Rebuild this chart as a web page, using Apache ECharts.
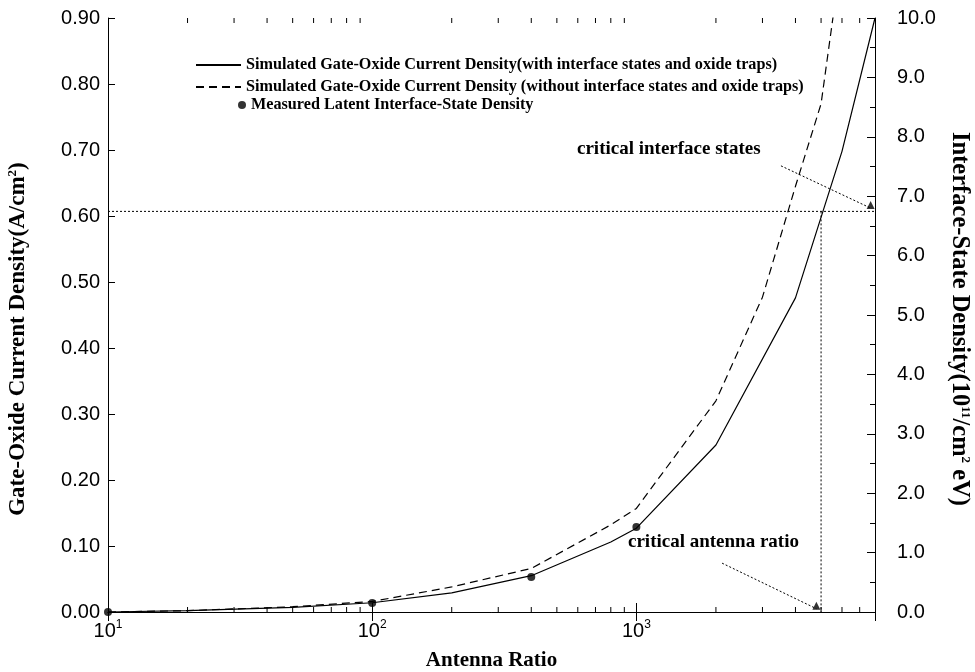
<!DOCTYPE html>
<html><head><meta charset="utf-8">
<script src="https://cdn.jsdelivr.net/npm/echarts@6/dist/echarts.min.js"></script>
<style>html,body{margin:0;padding:0;background:#fff}#c{width:975px;height:672px}</style>
</head><body><div id="c"></div>
<script>
// ---- data ----
const solidRatio   = [10, 20, 50, 100, 200, 400, 800, 1000, 2000, 4000, 6000, 8000];
const jWithTraps   = [0, 0.002, 0.007, 0.014, 0.029, 0.055, 0.106, 0.127, 0.253, 0.476, 0.698, 0.9];
const dashedRatio  = [10, 20, 50, 100, 200, 400, 800, 1000, 2000, 3000, 4000, 5000, 6000];
const jNoTraps     = [0, 0.002, 0.008, 0.016, 0.038, 0.066, 0.132, 0.157, 0.32, 0.477, 0.645, 0.77, 1.0];
const measuredRatio = [10, 100, 400, 1000];
const measuredDit   = [0, 0.15, 0.59, 1.43];
const criticalRatio = 5000;
const criticalJ = 0.607;
const arrowStates = [[3525, 0.676], [7700, 0.612]];
const arrowRatio  = [[2110, 0.074], [4800, 0.005]];
const xMin = 10, xMax = 8000;
const leftMin = 0, leftMax = 0.9, leftStep = 0.1;
const rightMin = 0, rightMax = 10, rightStep = 1;
const minorTickValues = [20,30,40,50,60,70,80,90,200,300,400,500,600,700,800,900,2000,3000,4000,5000,6000,7000];
const seriesNames = [
  'Simulated Gate-Oxide Current Density(with interface states and oxide traps)',
  'Simulated Gate-Oxide Current Density (without interface states and oxide traps)',
  'Measured Latent Interface-State Density'
];
const xName = 'Antenna Ratio';
const leftName = 'Gate-Oxide Current Density(A/cm{sup|2})';
const rightName = 'Interface-State Density(10{sup|11}/cm{sup|2} eV)';
const noteStates = 'critical interface states';
const noteRatio = 'critical antenna ratio';

const zip = (a, b) => a.map((v, i) => [v, b[i]]);
const serif = '"Liberation Serif", "Times New Roman", serif';
const sans = '"Liberation Sans", Arial, sans-serif';
const black = '#000';

const chart = echarts.init(document.getElementById('c'), null, {renderer: 'canvas'});

const xAxisBase = {
  type: 'log', logBase: 10, min: xMin, max: xMax,
  axisLine: {show: true, lineStyle: {color: black, width: 1}},
  axisTick: {show: true, inside: true, length: 9, lineStyle: {color: black}},
  splitLine: {show: false}, minorTick: {show: false}, minorSplitLine: {show: false}
};
const supRich = {sup: {fontFamily: serif, fontWeight: 'bold', fontSize: 13, verticalAlign: 'top', padding: [0, 0, 12, 0]}};

chart.setOption({
  animation: false,
  backgroundColor: '#fff',
  grid: {left: 108, right: 100, top: 18, bottom: 60, containLabel: false, outerBoundsMode: 'none'},
  xAxis: [
    Object.assign({}, xAxisBase, {
      position: 'bottom',
      name: xName, nameLocation: 'middle', nameGap: 38,
      nameTextStyle: {fontFamily: serif, fontWeight: 'bold', fontSize: 21, color: black},
      axisLabel: {
        margin: 7, color: black, fontFamily: sans, fontSize: 20,
        formatter: function (v) {
          const e = Math.log10(v);
          if (Math.abs(e - Math.round(e)) > 1e-6) return '';
          return '10{sup|' + Math.round(e) + '}';
        },
        rich: {sup: {fontSize: 12, fontFamily: sans, color: black, verticalAlign: 'top', padding: [0, 0, 12, 0]}}
      }
    }),
    Object.assign({}, xAxisBase, {position: 'top', axisLabel: {show: false}})
  ],
  yAxis: [
    {
      type: 'value', min: leftMin, max: leftMax, interval: leftStep, position: 'left',
      axisLine: {show: true, lineStyle: {color: black}},
      axisTick: {show: true, inside: true, length: 7, lineStyle: {color: black}},
      splitLine: {show: false},
      axisLabel: {color: black, fontFamily: sans, fontSize: 20, margin: 8, formatter: v => v.toFixed(2)},
      name: leftName, nameLocation: 'middle', nameGap: 77, nameRotate: 90,
      nameTextStyle: {fontFamily: serif, fontWeight: 'bold', fontSize: 23, color: black,
        padding: [0, 48, 0, 0], rich: supRich}
    },
    {
      type: 'value', min: rightMin, max: rightMax, interval: rightStep, position: 'right',
      axisLine: {show: true, lineStyle: {color: black}},
      axisTick: {show: true, inside: true, length: 8, lineStyle: {color: black}},
      minorTick: {show: true, splitNumber: 2, length: 5, lineStyle: {color: black}},
      splitLine: {show: false},
      axisLabel: {color: black, fontFamily: sans, fontSize: 20, margin: 22, formatter: v => v.toFixed(1)},
      name: rightName, nameLocation: 'middle', nameGap: 69, nameRotate: -90,
      nameTextStyle: {fontFamily: serif, fontWeight: 'bold', fontSize: 24.5, color: black, padding: [0, 0, 0, 8], rich: supRich}
    }
  ],
  legend: [
    {
      data: [seriesNames[0], seriesNames[1]],
      orient: 'vertical', left: 190, top: 52, itemWidth: 45, itemHeight: 14, itemGap: 6,
      selectedMode: false,
      itemStyle: {opacity: 0, color: 'transparent', borderWidth: 0},
      textStyle: {fontFamily: serif, fontWeight: 'bold', fontSize: 16.2, color: black, lineHeight: 14}
    },
    {
      data: [seriesNames[2]],
      orient: 'vertical', left: 233, top: 92, itemWidth: 8, itemHeight: 14,
      selectedMode: false,
      textStyle: {fontFamily: serif, fontWeight: 'bold', fontSize: 16.2, color: black, lineHeight: 14}
    }
  ],
  graphic: [
    {type: 'text', left: 577, top: 140, style: {text: noteStates, font: 'bold 19px ' + serif, fill: black}},
    {type: 'text', left: 628, top: 533, style: {text: noteRatio, font: 'bold 19px ' + serif, fill: black}}
  ],
  series: [
    {
      name: seriesNames[0], type: 'line', xAxisIndex: 0, yAxisIndex: 0,
      data: zip(solidRatio, jWithTraps), symbol: 'none', showSymbol: false,
      lineStyle: {color: black, width: 1.2, type: 'solid'}, itemStyle: {color: black}
    },
    {
      name: seriesNames[1], type: 'line', xAxisIndex: 0, yAxisIndex: 0,
      data: zip(dashedRatio, jNoTraps), symbol: 'none', showSymbol: false,
      lineStyle: {color: black, width: 1.2, type: [8, 5]}, itemStyle: {color: black}
    },
    {
      name: seriesNames[2], type: 'scatter', xAxisIndex: 0, yAxisIndex: 1,
      data: zip(measuredRatio, measuredDit), symbol: 'circle', symbolSize: 8,
      itemStyle: {color: black}, clip: false
    },
    {
      type: 'line', xAxisIndex: 0, yAxisIndex: 0, symbol: 'none', silent: true,
      data: [[xMin, criticalJ], [xMax, criticalJ]],
      lineStyle: {color: black, width: 1, type: [2, 2]}
    },
    {
      type: 'line', xAxisIndex: 0, yAxisIndex: 0, symbol: 'none', silent: true,
      data: [[criticalRatio, criticalJ], [criticalRatio, leftMin]],
      lineStyle: {color: black, width: 1, type: [2, 2]}
    },
    {
      type: 'line', xAxisIndex: 0, yAxisIndex: 0, symbol: 'none', silent: true,
      data: arrowStates, lineStyle: {color: black, width: 1, type: [2, 2]}
    },
    {
      type: 'line', xAxisIndex: 0, yAxisIndex: 0, symbol: 'none', silent: true,
      data: arrowRatio, lineStyle: {color: black, width: 1, type: [2, 2]}
    },
    {
      type: 'scatter', xAxisIndex: 0, yAxisIndex: 0, silent: true, clip: false,
      data: [arrowStates[1], arrowRatio[1]], symbol: 'triangle', symbolSize: [8, 8],
      symbolOffset: [0, -3], itemStyle: {color: black}
    },
    {
      type: 'custom', xAxisIndex: 0, yAxisIndex: 0, silent: true, clip: false,
      data: minorTickValues.map(v => [v, leftMin]),
      encode: {x: 0, y: 1},
      renderItem: function (params, api) {
        const v = api.value(0);
        const b = api.coord([v, leftMin]);
        const t = api.coord([v, leftMax]);
        return {type: 'group', children: [
          {type: 'line', shape: {x1: b[0], y1: b[1], x2: b[0], y2: b[1] - 5}, style: {stroke: black, lineWidth: 1}},
          {type: 'line', shape: {x1: t[0], y1: t[1], x2: t[0], y2: t[1] + 5}, style: {stroke: black, lineWidth: 1}}
        ]};
      }
    }
  ]
});
</script>
</body></html>
